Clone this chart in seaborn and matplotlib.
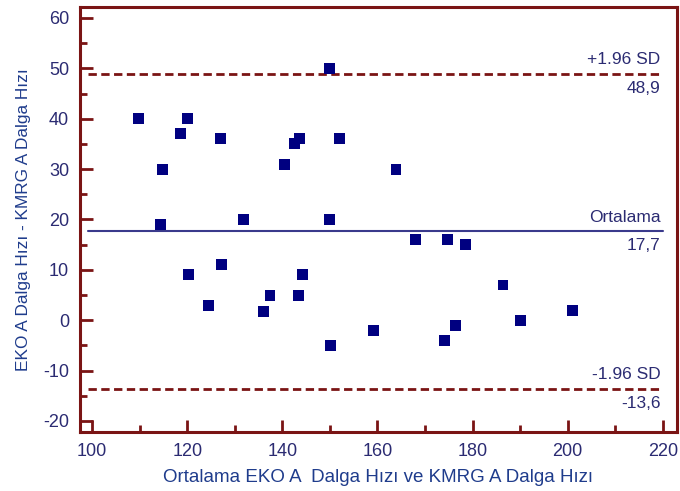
import matplotlib
matplotlib.use('Agg')
import matplotlib.pyplot as plt
import seaborn as sns
import pandas as pd
from matplotlib.ticker import MultipleLocator

# ortalama (x) ve fark (y) degerleri
ortalama = [109.7, 114.7, 114.3, 118.5, 120.0, 120.2, 124.4, 126.9, 127.3, 131.9,
            136.1, 137.4, 140.4, 142.5, 143.7, 143.3, 144.3, 150.0, 150.0, 150.2,
            152.1, 159.1, 163.9, 167.9, 174.8, 174.0, 176.5, 178.6, 186.4, 190.0, 201.1]
fark = [40, 30, 19, 37, 40, 9, 3, 36, 11, 20,
        1.7, 5, 31, 35, 36, 5, 9, 50, 20, -5,
        36, -2, 30, 16, 16, -4, -1, 15, 7, 0, 2]

mean_diff = 17.7
upper = 48.9
lower = -13.6

df = pd.DataFrame({'ort': ortalama, 'fark': fark})

sns.set_style('white')
plt.rcParams['font.family'] = ['Liberation Sans', 'DejaVu Sans']
plt.rcParams['axes.unicode_minus'] = False

frame = '#7a1414'
navy = '#000080'
txt = '#2b2b72'
lbl = '#1f3c8c'

fig, ax = plt.subplots(figsize=(6.8, 4.91), dpi=100)
fig.subplots_adjust(left=0.118, right=0.995, top=0.986, bottom=0.12)

sns.scatterplot(data=df, x='ort', y='fark', marker='s', s=62, color=navy,
                edgecolor='none', ax=ax, zorder=3)

ax.plot([99.2, 220], [mean_diff] * 2, color='#3a3a8c', lw=1.5, zorder=2)
ax.plot([99.2, 220], [upper] * 2, color=frame, lw=2, ls=(0, (3, 1.6)), zorder=2)
ax.plot([99.2, 220], [lower] * 2, color=frame, lw=2, ls=(0, (3, 1.6)), zorder=2)

fs = 12.5
ax.text(219.5, upper + 1.3, '+1.96 SD', ha='right', va='bottom', color=txt, fontsize=fs)
ax.text(219.5, upper - 1.4, '48,9', ha='right', va='top', color=txt, fontsize=fs)
ax.text(219.5, mean_diff + 1.3, 'Ortalama', ha='right', va='bottom', color=txt, fontsize=fs)
ax.text(219.5, mean_diff - 1.4, '17,7', ha='right', va='top', color=txt, fontsize=fs)
ax.text(219.5, lower + 1.3, '-1.96 SD', ha='right', va='bottom', color=txt, fontsize=fs)
ax.text(219.5, lower - 1.4, '-13,6', ha='right', va='top', color=txt, fontsize=fs)

ax.set_xlim(97.5, 222.9)
ax.set_ylim(-22.2, 62.2)
ax.xaxis.set_major_locator(MultipleLocator(20))
ax.xaxis.set_minor_locator(MultipleLocator(10))
ax.yaxis.set_major_locator(MultipleLocator(10))
ax.yaxis.set_minor_locator(MultipleLocator(5))

for sp in ax.spines.values():
    sp.set_color(frame)
    sp.set_linewidth(2.2)

ax.tick_params(which='both', bottom=True, left=True, top=False, right=False)
ax.tick_params(which='major', direction='in', length=9, width=2, color=frame,
               labelcolor=txt, labelsize=13, pad=8)
ax.tick_params(which='minor', direction='in', length=5, width=2, color=frame)

ax.set_xlabel('Ortalama EKO A  Dalga Hızı ve KMRG A Dalga Hızı', color=lbl, fontsize=13.5, labelpad=6)
ax.set_ylabel('EKO A Dalga Hızı - KMRG A Dalga Hızı', color=lbl, fontsize=12.4, labelpad=9)

fig.savefig('out.png', dpi=100)
